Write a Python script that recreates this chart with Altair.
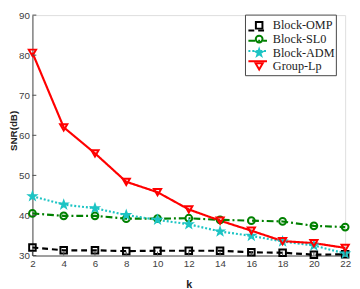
import math
import altair as alt
import pandas as pd

k = [2, 4, 6, 8, 10, 12, 14, 16, 18, 20, 22]
block_omp = [32.0, 31.3, 31.3, 31.1, 31.2, 31.2, 31.2, 30.8, 30.7, 30.2, 30.3]
block_sl0 = [40.5, 39.9, 39.9, 39.2, 39.2, 39.3, 38.9, 38.7, 38.5, 37.4, 37.1]
block_adm = [44.8, 42.7, 41.8, 40.1, 38.9, 37.8, 36.0, 34.9, 33.5, 32.5, 30.5]
group_lp = [80.6, 62.0, 55.5, 48.4, 45.8, 41.5, 38.7, 36.2, 33.6, 33.1, 31.9]

series = ["Block-OMP", "Block-SL0", "Block-ADM", "Group-Lp"]
colors = ["#000000", "#008000", "#1cc4c4", "#ff0000"]
dashes = [[6, 4], [7, 3, 2, 3], [2, 2], [1, 0]]
xticks = [2, 4, 6, 8, 10, 12, 14, 16, 18, 20, 22]
yticks = [30, 40, 50, 60, 70, 80, 90]

# five-point star path in unit coordinates
pts = []
for i in range(10):
    r = 1.0 if i % 2 == 0 else 0.40
    a = -math.pi / 2 + i * math.pi / 5
    pts.append(f"{r*math.cos(a):.3f},{r*math.sin(a):.3f}")
star = "M" + "L".join(pts) + "Z"
shapes = ["square", "circle", star, "triangle-down"]
fills = ["transparent", "transparent", "#1cc4c4", "transparent"]
sizes = [45, 55, 150, 80]

rows = []
for name, vals in zip(series, [block_omp, block_sl0, block_adm, group_lp]):
    for kk, v in zip(k, vals):
        rows.append({"k": kk, "snr": v, "method": name})
df = pd.DataFrame(rows)
leg = pd.DataFrame({"method": series})

W, H = 320, 246
font = "Liberation Sans"

xsc = alt.Scale(domain=[2, 22], nice=False, zero=False)
ysc = alt.Scale(domain=[30, 90], nice=False, zero=False)
colsc = alt.Scale(domain=series, range=colors)
dashsc = alt.Scale(domain=series, range=dashes)
shapesc = alt.Scale(domain=series, range=shapes)
fillsc = alt.Scale(domain=series, range=fills)
sizesc = alt.Scale(domain=series, range=sizes)
col = alt.Color("method:N", scale=colsc, legend=None)

xaxis = alt.Axis(values=xticks, tickSize=0, labelPadding=3, domainColor="#4d4d4d",
                 labelColor="#404040", labelFontSize=10, labelFont=font,
                 labelOverlap=False, labelFlush=False,
                 titleFont=font, titleFontSize=11, titleFontWeight="bold",
                 titleColor="#222222", titlePadding=11, grid=False)
x = alt.X("k:Q", scale=xsc, title="k", axis=xaxis)
y_axis = alt.Y("snr:Q", scale=ysc, title="SNR(dB)",
               axis=alt.Axis(values=yticks, tickSize=0, labelPadding=3, domainColor="#4d4d4d",
                             labelColor="#404040", labelFontSize=10, labelFont=font,
                             labelOverlap=False, labelFlush=False,
                             titleFont=font, titleFontSize=10, titleFontWeight="bold",
                             titleColor="#222222", titleX=-24, titleY=118, titleBaseline="top",
                             grid=False))
y_plain = alt.Y("snr:Q", scale=ysc, axis=None)

lines = alt.Chart(df).mark_line(strokeWidth=2.2).encode(
    x=x, y=y_axis, color=col,
    strokeDash=alt.StrokeDash("method:N", scale=dashsc, legend=None),
)
points = alt.Chart(df).mark_point(strokeWidth=2, opacity=1).encode(
    x=x, y=y_plain, color=col,
    shape=alt.Shape("method:N", scale=shapesc, legend=None),
    fill=alt.Fill("method:N", scale=fillsc, legend=None),
    size=alt.Size("method:N", scale=sizesc, legend=None),
)

xt = pd.DataFrame({"k": xticks})
yt = pd.DataFrame({"t": yticks})
xtick_marks = alt.Chart(xt).mark_rule(color="#4d4d4d").encode(
    x=x, y=alt.value(H - 4), y2=alt.value(H))
ytick_marks = alt.Chart(yt).mark_rule(color="#4d4d4d").encode(
    y=alt.Y("t:Q", scale=ysc, axis=None), x=alt.value(0), x2=alt.value(4))

# legend drawn with a point scale on the series names
legy = alt.Y("method:N", scale=alt.Scale(domain=series, range=[10.5, 52.5], padding=0), axis=None)
box = alt.Chart(pd.DataFrame({"b": [0]})).mark_rect(
    fill="white", stroke="#444444", strokeWidth=1).encode(
    x=alt.value(218), x2=alt.value(311), y=alt.value(0), y2=alt.value(62))
leg_lines = alt.Chart(leg).mark_rule(strokeWidth=2.2).encode(
    x=alt.value(221), x2=alt.value(240), y=legy, color=col,
    strokeDash=alt.StrokeDash("method:N", scale=dashsc, legend=None))
leg_points = alt.Chart(leg).mark_point(strokeWidth=2, opacity=1).encode(
    x=alt.value(232), y=legy, color=col,
    shape=alt.Shape("method:N", scale=shapesc, legend=None),
    fill=alt.Fill("method:N", scale=fillsc, legend=None),
    size=alt.Size("method:N", scale=sizesc, legend=None))
leg_text = alt.Chart(leg).mark_text(
    align="left", baseline="middle", font="Liberation Serif", fontSize=12.5, color="#222222").encode(
    x=alt.value(246), y=legy, text="method:N")

chart = alt.layer(lines, points, xtick_marks, ytick_marks, box, leg_lines, leg_points, leg_text).resolve_scale(
    y="independent"
).properties(
    width=W, height=H,
    autosize=alt.AutoSizeParams(type="none"),
    padding={"left": 25, "top": 4, "right": 7, "bottom": 31},
).configure_view(stroke=None).configure(background="white")

chart.save("out.html", embed_options={"renderer": "svg", "actions": False})
